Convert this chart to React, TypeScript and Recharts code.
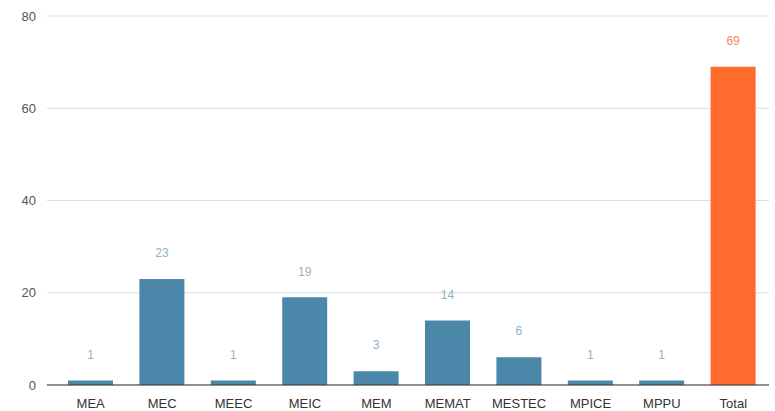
import React from 'react';
import { BarChart, Bar, XAxis, YAxis, CartesianGrid, Cell, LabelList } from 'recharts';

const programs = ['MEA', 'MEC', 'MEEC', 'MEIC', 'MEM', 'MEMAT', 'MESTEC', 'MPICE', 'MPPU', 'Total'];
const counts = [1, 23, 1, 19, 3, 14, 6, 1, 1, 69];
const yTicks = [0, 20, 40, 60, 80];

const BLUE = '#4b87a9';
const ORANGE = '#ff6b2c';

const data = programs.map((name, i) => ({ name, count: counts[i] }));

const ValueLabel = (props: any) => {
  const { x, y, width, value, index } = props;
  const isTotal = programs[index] === 'Total';
  return (
    <text
      x={x + width / 2}
      y={y - 25}
      textAnchor="middle"
      dominantBaseline="middle"
      fontSize={12}
      fill={isTotal ? '#f88a6a' : '#8fb2c9'}
    >
      {value}
    </text>
  );
};

export default function App() {
  return (
    <div style={{ width: 775, height: 411, fontFamily: 'Liberation Sans, Arial, sans-serif' }}>
      <style>{`body{margin:0}`}</style>
      <BarChart
        width={775}
        height={411}
        data={data}
        margin={{ top: 16, right: 6, left: 0, bottom: 0 }}
        barSize={45}
      >
        <CartesianGrid vertical={false} stroke="#dcdcdc" />
        <XAxis
          dataKey="name"
          interval={0}
          height={26}
          tickSize={0}
          tickLine={false}
          tickMargin={14}
          axisLine={{ stroke: '#333333' }}
          tick={{ fontSize: 13, fill: '#333333' }}
          padding={{ left: 8, right: 0 }}
        />
        <YAxis
          domain={[0, 80]}
          ticks={yTicks}
          width={47}
          tickSize={0}
          tickLine={false}
          tickMargin={11}
          axisLine={false}
          tick={{ fontSize: 13, fill: '#555555' }}
        />
        <Bar dataKey="count" isAnimationActive={false}>
          {data.map((d) => (
            <Cell key={d.name} fill={d.name === 'Total' ? ORANGE : BLUE} />
          ))}
          <LabelList dataKey="count" content={ValueLabel} />
        </Bar>
      </BarChart>
    </div>
  );
}
